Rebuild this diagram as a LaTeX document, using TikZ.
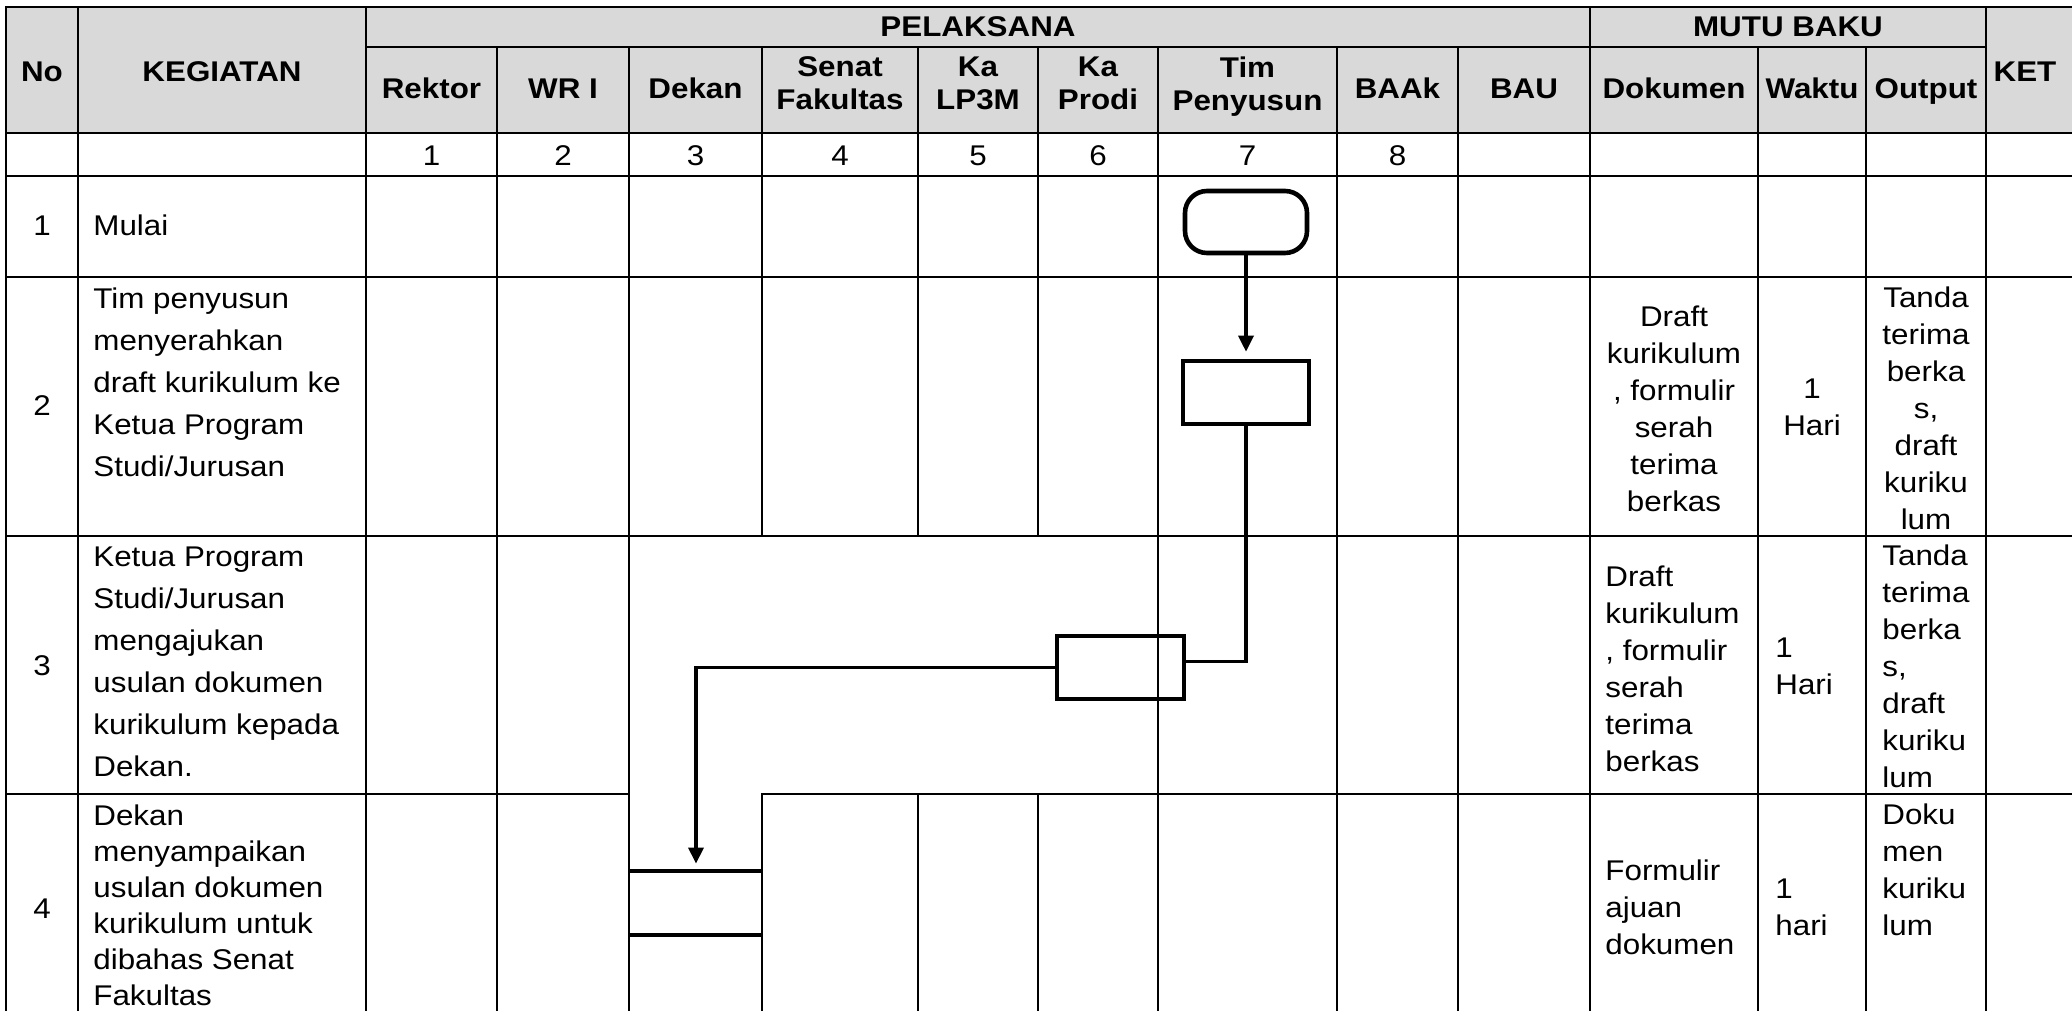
\documentclass[tikz,border=0pt]{standalone}
\usepackage{fontspec}
\setmainfont{Liberation Sans}[FakeStretch=1.1]
\usetikzlibrary{arrows.meta}
\definecolor{hdrgray}{HTML}{D9D9D9}
\newcommand{\hfnt}{\fontsize{14.25pt}{16.5pt}\selectfont\bfseries}
\newcommand{\bfnt}{\fontsize{14.25pt}{21pt}\selectfont}
\newcommand{\bfntb}{\fontsize{14.25pt}{18pt}\selectfont}
\newcommand{\mfnt}{\fontsize{14.25pt}{18.5pt}\selectfont}
\begin{document}
\begin{tikzpicture}[x=0.5pt,y=-0.5pt,
  grid/.style={line width=1.2pt,line cap=rect},
  hb/.style={font=\hfnt,inner sep=0pt,anchor=base},
  htwo/.style={font=\hfnt,inner sep=0pt,anchor=north,align=center},
  nb/.style={font=\bfnt,inner sep=0pt,anchor=base},
  kt/.style={font=\bfnt,inner sep=0pt,anchor=north west,align=left},
  ktb/.style={font=\bfntb,inner sep=0pt,anchor=north west,align=left},
  mc/.style={font=\mfnt,inner sep=0pt,anchor=north,align=center},
  ml/.style={font=\mfnt,inner sep=0pt,anchor=north west,align=left},
  fc/.style={draw,line width=2.3pt,inner sep=0pt,fill=none},
  conn/.style={line width=1.7pt},
  tip/.style={-{Triangle[length=8pt,width=7.5pt]},shorten >=3.5pt}]
\useasboundingbox (0,0) rectangle (2072,1011);
\clip (0,0) rectangle (2072,1011);
% header fill
\fill[hdrgray] (6,7) rectangle (2072,133);
% horizontal grid lines
\draw[grid] (6,7) -- (2072,7);
\draw[grid] (366,47) -- (1986,47);
\draw[grid] (6,133) -- (2072,133);
\draw[grid] (6,176) -- (2072,176);
\draw[grid] (6,277) -- (2072,277);
\draw[grid] (6,536) -- (2072,536);
\draw[grid] (6,794) -- (629,794);
\draw[grid] (762,794) -- (2072,794);
% vertical grid lines
\foreach \x in {6,78,366,1590,1986} \draw[grid] (\x,7) -- (\x,1011);
\foreach \x in {497,629,1158,1337,1458,1758,1866} \draw[grid] (\x,47) -- (\x,1011);
\foreach \x in {762,918,1038} {\draw[grid] (\x,47) -- (\x,536); \draw[grid] (\x,794) -- (\x,1011);}
% header texts
\node[hb] (hNo) at (42,82) {No};
\node[hb] (hKeg) at (222,82) {KEGIATAN};
\node[hb] (hPel) at (978,37) {PELAKSANA};
\node[hb] (hMutu) at (1788,37) {MUTU BAKU};
\node[hb] (hKet) at (2025,82) {KET};
\node[hb] (hRek) at (431.5,99) {Rektor};
\node[hb] (hWR) at (563,99) {WR I};
\node[hb] (hDek) at (695.5,99) {Dekan};
\node[htwo] (hSen) at (840,56.5) {Senat\\Fakultas};
\node[htwo] (hLP) at (978,56.5) {Ka\\LP3M};
\node[htwo] (hPro) at (1098,56.5) {Ka\\Prodi};
\node[htwo] (hTim) at (1247.5,56.5) {Tim\\Penyusun};
\node[hb] (hBAAk) at (1397.5,99) {BAAk};
\node[hb] (hBAU) at (1524,99) {BAU};
\node[hb] (hDok) at (1674,99) {Dokumen};
\node[hb] (hWak) at (1812,99) {Waktu};
\node[hb] (hOut) at (1926,99) {Output};
% number row
\node[nb] (n1) at (431.5,165) {1};
\node[nb] (n2) at (563,165) {2};
\node[nb] (n3) at (695.5,165) {3};
\node[nb] (n4) at (840,165) {4};
\node[nb] (n5) at (978,165) {5};
\node[nb] (n6) at (1098,165) {6};
\node[nb] (n7) at (1247.5,165) {7};
\node[nb] (n8) at (1397.5,165) {8};
% row numbers
\node[nb] (r1) at (42,235) {1};
\node[nb] (r2) at (42,415) {2};
\node[nb] (r3) at (42,675) {3};
\node[nb] (r4) at (42,918) {4};
% kegiatan
\node[nb,anchor=base west] (k1) at (93,235) {Mulai};
\node[kt] (k2) at (93,287.5) {Tim penyusun\\menyerahkan\\draft kurikulum ke\\Ketua Program\\Studi/Jurusan};
\node[kt] (k3) at (93,546) {Ketua Program\\Studi/Jurusan\\mengajukan\\usulan dokumen\\kurikulum kepada\\Dekan.};
\node[ktb] (k4) at (93,804.5) {Dekan\\menyampaikan\\usulan dokumen\\kurikulum untuk\\dibahas Senat\\Fakultas};
% mutu baku
\node[mc] (d2) at (1674,305) {Draft\\kurikulum\\, formulir\\serah\\terima\\berkas};
\node[mc] (w2) at (1812,378.5) {1\\Hari};
\node[mc] (o2) at (1926,286) {Tanda\\terima\\berka\\s,\\draft\\kuriku\\lum};
\node[ml] (d3) at (1605,565) {Draft\\kurikulum\\, formulir\\serah\\terima\\berkas};
\node[ml] (w3) at (1775,637) {1\\Hari};
\node[ml] (o3) at (1882,544.5) {Tanda\\terima\\berka\\s,\\draft\\kuriku\\lum};
\node[ml] (d4) at (1605,859.5) {Formulir\\ajuan\\dokumen};
\node[ml] (w4) at (1775,878.5) {1\\hari};
\node[ml] (o4) at (1882,803.5) {Doku\\men\\kuriku\\lum};
% flowchart shapes
\node[fc,rounded corners=11pt,minimum width=61pt,minimum height=31pt] (t1) at (1246,222) {};
\node[fc,minimum width=63pt,minimum height=31.5pt] (p2) at (1246,392.5) {};
\node[fc,minimum width=63.5pt,minimum height=31.5pt] (p3) at (1120.5,667.5) {};
\node[inner sep=0pt,minimum width=66pt,minimum height=32pt] (ds) at (696,903) {};
\draw[line width=2pt] (ds.north west) -- (ds.north east);
\draw[line width=2pt] (ds.south west) -- (ds.south east);
% connectors
\draw[conn,tip] (t1) -- (p2);
\draw[conn] (p2.south) |- ([yshift=3pt]p3.east);
\draw[conn,tip] (p3.west) -| (ds.north);
\end{tikzpicture}
\end{document}
